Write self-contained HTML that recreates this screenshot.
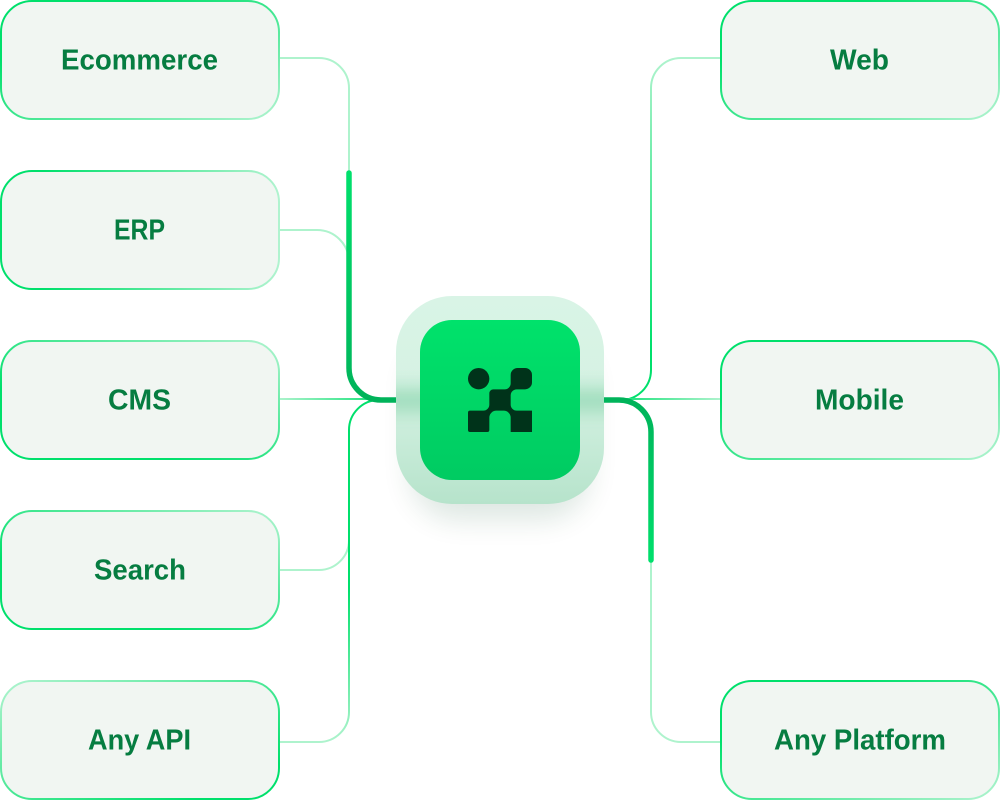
<!DOCTYPE html>
<html lang="en">
<head>
<meta charset="utf-8">
<title>Integration diagram</title>
<style>
html,body{margin:0;padding:0;background:#fff}
body{width:1000px;height:800px;overflow:hidden}
svg{display:block}
text{font-family:"Liberation Sans",sans-serif;font-weight:700;font-size:29px;fill:#067d41}
</style>
</head>
<body>
<svg width="1000" height="800" viewBox="0 0 1000 800" xmlns="http://www.w3.org/2000/svg">
<defs>
<linearGradient id="gA" x1="0" y1="0" x2="1" y2="1"><stop offset="0" stop-color="#00e06c"/><stop offset=".25" stop-color="#00e06c"/><stop offset="1" stop-color="#b0f3cf"/></linearGradient>
<linearGradient id="gB" x1="0" y1="0" x2="1" y2="0"><stop offset="0" stop-color="#00e06c"/><stop offset=".15" stop-color="#00e06c"/><stop offset="1" stop-color="#b0f3cf"/></linearGradient>
<linearGradient id="gC" x1="0" y1="1" x2="1" y2="0"><stop offset="0" stop-color="#00e06c"/><stop offset=".3" stop-color="#00e06c"/><stop offset="1" stop-color="#b0f3cf"/></linearGradient>
<linearGradient id="gD" x1="1" y1="1" x2="0" y2="0"><stop offset="0" stop-color="#00e06c"/><stop offset=".15" stop-color="#00e06c"/><stop offset="1" stop-color="#b0f3cf"/></linearGradient>
<linearGradient id="lCms" gradientUnits="userSpaceOnUse" x1="278" y1="399" x2="396" y2="399"><stop offset="0" stop-color="#aef3cd"/><stop offset="1" stop-color="#00e06c"/></linearGradient>
<linearGradient id="lApi" gradientUnits="userSpaceOnUse" x1="0" y1="742" x2="0" y2="400"><stop offset="0" stop-color="#aef3cd"/><stop offset=".45" stop-color="#00e06c"/><stop offset="1" stop-color="#00e06c"/></linearGradient>
<linearGradient id="lWeb" gradientUnits="userSpaceOnUse" x1="0" y1="58" x2="0" y2="400"><stop offset="0" stop-color="#aef3cd"/><stop offset=".85" stop-color="#00e06c"/><stop offset="1" stop-color="#00e06c"/></linearGradient>
<linearGradient id="lMob" gradientUnits="userSpaceOnUse" x1="604" y1="399" x2="720" y2="399"><stop offset="0" stop-color="#00e06c"/><stop offset="1" stop-color="#aef3cd"/></linearGradient>
<linearGradient id="tL" gradientUnits="userSpaceOnUse" x1="0" y1="172" x2="0" y2="400"><stop offset="0" stop-color="#00e06c"/><stop offset="1" stop-color="#00b35a"/></linearGradient>
<linearGradient id="tR" gradientUnits="userSpaceOnUse" x1="0" y1="400" x2="0" y2="562"><stop offset="0" stop-color="#00b35a"/><stop offset="1" stop-color="#00e06c"/></linearGradient>
<linearGradient id="outer" x1="0" y1="0" x2="0" y2="1"><stop offset="0" stop-color="#d9f4e6"/><stop offset=".45" stop-color="#d6f2e3"/><stop offset="1" stop-color="#b6e3cb"/></linearGradient>
<linearGradient id="inner" x1="0" y1="0" x2="0" y2="1"><stop offset="0" stop-color="#00e26b"/><stop offset="1" stop-color="#00cb62"/></linearGradient>
<filter id="blur" x="-40%" y="-40%" width="180%" height="180%"><feGaussianBlur stdDeviation="14"/></filter>
<filter id="bandBlur" x="-50%" y="-400%" width="200%" height="900%"><feGaussianBlur stdDeviation="11"/></filter>
<clipPath id="outerClip"><rect x="396" y="296" width="208" height="208" rx="56"/></clipPath>
</defs>

<rect x="410" y="340" width="180" height="180" rx="48" fill="#004d26" opacity=".13" filter="url(#blur)"/>

<g fill="none" stroke-width="2">
<path d="M278 58H319A30 30 0 0 1 349 88V180" stroke="#aef3cd"/>
<path d="M278 230H317A32 32 0 0 1 349 262" stroke="#aef3cd"/>
<path d="M278 399H396" stroke="url(#lCms)"/>
<path d="M278 570H319A30 30 0 0 0 349 540" stroke="#aef3cd"/>
<path d="M278 742H319A30 30 0 0 0 349 712V430A30 30 0 0 1 379 400H396" stroke="url(#lApi)"/>
<path d="M720 58H681A30 30 0 0 0 651 88V370A30 30 0 0 1 621 400H604" stroke="url(#lWeb)"/>
<path d="M604 399H720" stroke="url(#lMob)"/>
<path d="M720 742H681A30 30 0 0 1 651 712V555" stroke="#aef3cd"/>
</g>
<g fill="none" stroke-width="5.5" stroke-linecap="round">
<path d="M349 173V368A32 32 0 0 0 381 400H398" stroke="url(#tL)"/>
<path d="M602 400H619A32 32 0 0 1 651 432V560" stroke="url(#tR)"/>
</g>

<g fill="#f1f6f2" stroke-width="2">
<rect x="1" y="1" width="278" height="118" rx="31" stroke="url(#gA)"/>
<rect x="1" y="171" width="278" height="118" rx="31" stroke="url(#gB)"/>
<rect x="1" y="341" width="278" height="118" rx="31" stroke="url(#gC)"/>
<rect x="1" y="511" width="278" height="118" rx="31" stroke="url(#gC)"/>
<rect x="1" y="681" width="278" height="118" rx="31" stroke="url(#gD)"/>
<rect x="721" y="1" width="278" height="118" rx="31" stroke="url(#gA)"/>
<rect x="721" y="341" width="278" height="118" rx="31" stroke="url(#gA)"/>
<rect x="721" y="681" width="278" height="118" rx="31" stroke="url(#gA)"/>
</g>

<text x="61" y="69.5" textLength="157" lengthAdjust="spacingAndGlyphs">Ecommerce</text>
<text x="114" y="239.5" textLength="51" lengthAdjust="spacingAndGlyphs">ERP</text>
<text x="108" y="409.5" textLength="63" lengthAdjust="spacingAndGlyphs">CMS</text>
<text x="94" y="579.5" textLength="92" lengthAdjust="spacingAndGlyphs">Search</text>
<text x="88" y="749.5" textLength="103" lengthAdjust="spacingAndGlyphs">Any API</text>
<text x="830" y="69.5" textLength="59" lengthAdjust="spacingAndGlyphs">Web</text>
<text x="815" y="409.5" textLength="89" lengthAdjust="spacingAndGlyphs">Mobile</text>
<text x="774" y="749.5" textLength="172" lengthAdjust="spacingAndGlyphs">Any Platform</text>

<rect x="396" y="296" width="208" height="208" rx="56" fill="url(#outer)"/>
<g clip-path="url(#outerClip)">
<rect x="370" y="394" width="260" height="12" fill="#5cc48d" opacity=".85" filter="url(#bandBlur)"/>
</g>
<rect x="420" y="320" width="160" height="160" rx="32" fill="url(#inner)"/>
<circle cx="478.67" cy="378.67" r="10.67" fill="#00331a"/>
<path fill="#00331a" d="M510.67 375A7 7 0 0 1 517.67 368H525A7 7 0 0 1 532 375V382.33A7 7 0 0 1 525 389.33H516.67A6 6 0 0 0 510.67 395.33V404.67A6 6 0 0 0 516.67 410.67H532V432H510.67V417.67A7 7 0 0 0 503.67 410.67H496.33A7 7 0 0 0 489.33 417.67V430A2 2 0 0 1 487.33 432H470A2 2 0 0 1 468 430V412.67A2 2 0 0 1 470 410.67H483.33A6 6 0 0 0 489.33 404.67V393.33A4 4 0 0 1 493.33 389.33H504.67A6 6 0 0 0 510.67 383.33Z"/>
</svg>
</body>
</html>
